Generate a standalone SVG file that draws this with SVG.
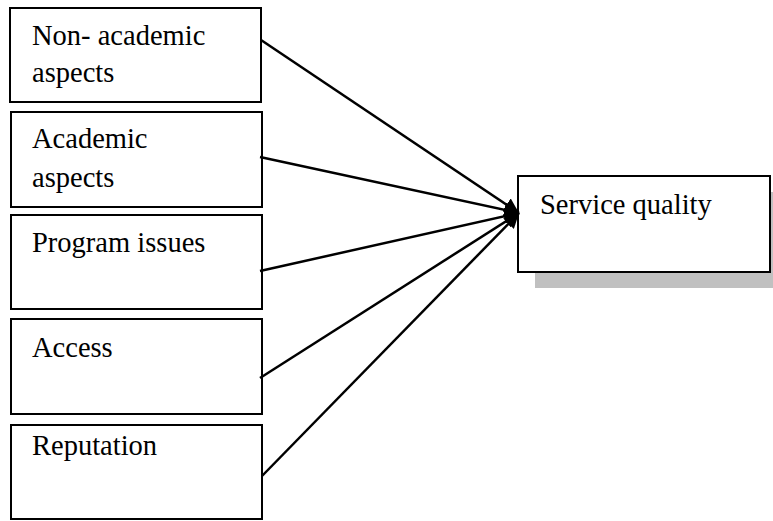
<svg xmlns="http://www.w3.org/2000/svg" width="773" height="521" viewBox="0 0 773 521">
<style>
.box{fill:#fff;stroke:#000;stroke-width:2}
.t{font-family:"Liberation Serif","Times New Roman",serif;font-size:28.5px;fill:#000}
.c{stroke:#000;stroke-width:2.5;fill:none}
</style>
<defs>
<marker id="ah" viewBox="0 0 12 12" refX="12" refY="6" markerWidth="6" markerHeight="6" orient="auto" markerUnits="strokeWidth">
<path d="M0,0 L12,6 L0,12 Z" fill="#000"/>
</marker>
</defs>
<rect width="773" height="521" fill="#fff"/>
<g id="n1"><rect class="box" x="10" y="8" width="251" height="94"/><text class="t" x="32" y="45">Non- academic</text><text class="t" x="32" y="82">aspects</text></g>
<g id="n2"><rect class="box" x="11" y="112" width="251" height="95"/><text class="t" x="32" y="148">Academic</text><text class="t" x="32" y="187">aspects</text></g>
<g id="n3"><rect class="box" x="11" y="215" width="251" height="94"/><text class="t" x="32" y="252">Program issues</text></g>
<g id="n4"><rect class="box" x="11" y="319" width="251" height="95"/><text class="t" x="32" y="357">Access</text></g>
<g id="n5"><rect class="box" x="11" y="425" width="251" height="94"/><text class="t" x="32" y="455">Reputation</text></g>
<g id="n6"><rect x="535" y="192" width="260" height="96" fill="#c0c0c0"/><rect class="box" x="518" y="176" width="252" height="96"/><text class="t" x="540" y="214">Service quality</text></g>
<g id="connectors">
<line class="c" x1="261" y1="40" x2="519" y2="213" marker-end="url(#ah)"/>
<line class="c" x1="260" y1="157" x2="519" y2="213" marker-end="url(#ah)"/>
<line class="c" x1="260" y1="271" x2="519" y2="213" marker-end="url(#ah)"/>
<line class="c" x1="260" y1="378" x2="519" y2="213" marker-end="url(#ah)"/>
<line class="c" x1="262" y1="476" x2="519" y2="213" marker-end="url(#ah)"/>
</g>
</svg>
